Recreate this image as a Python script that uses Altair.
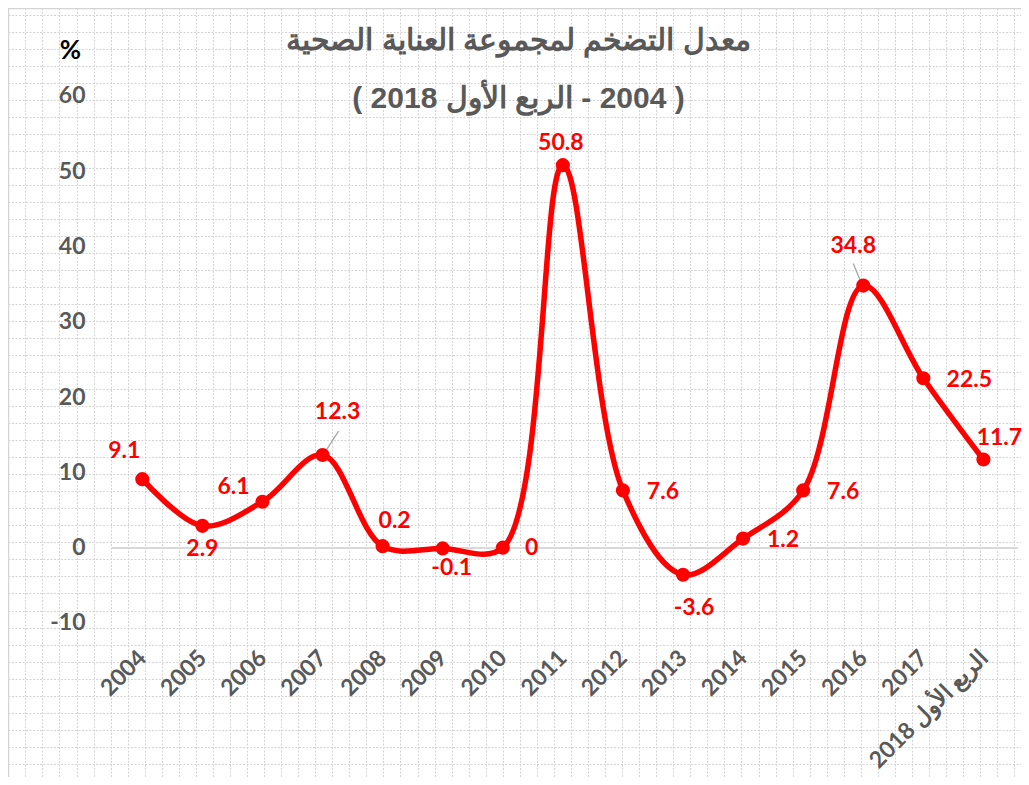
import altair as alt
import pandas as pd

# ---------------- data ----------------
periods = ["2004", "2005", "2006", "2007", "2008", "2009", "2010", "2011",
           "2012", "2013", "2014", "2015", "2016", "2017", "الربع الأول 2018"]
values = [9.1, 2.9, 6.1, 12.3, 0.2, -0.1, 0, 50.8, 7.6, -3.6, 1.2, 7.6, 34.8, 22.5, 11.7]
labels = ["9.1", "2.9", "6.1", "12.3", "0.2", "-0.1", "0", "50.8", "7.6", "-3.6",
          "1.2", "7.6", "34.8", "22.5", "11.7"]
y_ticks = [-10, 0, 10, 20, 30, 40, 50, 60]
RLE, PDF = "\u202b", "\u202c"
title_lines = ["معدل التضخم لمجموعة العناية الصحية",
               RLE + "(  2004 - الربع الأول 2018  )" + PDF]

# ---------------- styling / layout ----------------
W, H = 1013, 769
RED = "#ff0000"
GRAY_TXT = "#595959"
GRID = "#d4d4d4"
FONT = "Lato"

# label offsets (dx, dy) relative to each point
label_offsets = {
    "2004": (-18, -28), "2005": (0, 23), "2006": (-29, -15), "2007": (15, -43),
    "2008": (12, -25), "2009": (9, 20), "2010": (29, 0), "2011": (-2, -22),
    "2012": (40, 2), "2013": (11, 33), "2014": (40, 1), "2015": (40, 2),
    "2016": (-10, -40), "2017": (46, 2), "الربع الأول 2018": (16, -22),
}
# leader lines: (xOffset, yOffset, x2Offset, y2Offset)
leaders = {"2007": (1.5, -1.5, 16, -24), "2016": (-1.5, -1.7, -10, -22)}

df = pd.DataFrame({"period": periods, "value": values, "label": labels})

# background cell grid (decorative)
grid_x = [round(0.3 + 17.05 * k, 2) for k in range(60)]
grid_y = [round(6.8 + 17.02 * k, 2) for k in range(45)]

grid_layer = alt.Chart(pd.DataFrame({"gx": [0], "gy": [0]})).mark_point(opacity=0).encode(
    x=alt.X("gx:Q", scale=alt.Scale(domain=[0, W], nice=False, zero=False),
            axis=alt.Axis(orient="top", values=grid_x, labels=False, ticks=False,
                          domain=True, domainColor="#d4d4d4", domainWidth=1.5,
                          grid=True, gridColor=GRID, gridDash=[2, 1.5], gridWidth=1,
                          title=None)),
    y=alt.Y("gy:Q", scale=alt.Scale(domain=[0, H], nice=False, zero=False, reverse=True),
            axis=alt.Axis(orient="left", values=grid_y, labels=False, ticks=False,
                          domain=True, domainColor="#d4d4d4", domainWidth=1.5,
                          grid=True, gridColor=GRID, gridDash=[2, 1.5], gridWidth=1,
                          title=None)),
)

x_scale = alt.Scale(type="point", domain=periods, range=[134.3, 975.4], padding=0)
y_scale = alt.Scale(domain=[-30.46, 71.67], nice=False, zero=False)

x_axis = alt.Axis(orient="bottom", title=None, labelAngle=-45, labelAlign="right",
                  labelBaseline="middle", labelFont=FONT, labelFontSize=23,
                  labelFontWeight="bold", labelColor=GRAY_TXT, ticks=False, tickSize=0,
                  domain=False, grid=False, offset=-123, labelPadding=0,
                  labelOverlap=False, labelFlush=False, labelBound=False)
y_axis = alt.Axis(orient="left", values=y_ticks, title="%", titleAngle=0,
                  titleX=-15, titleY=42, titleAlign="center", titleBaseline="middle",
                  titleFont=FONT, titleFontSize=26, titleFontWeight="bold", titleColor="#000000",
                  labelFont=FONT, labelFontSize=23, labelFontWeight="bold",
                  labelExpr="'' + datum.value",
                  labelColor=GRAY_TXT, ticks=False, tickSize=0, domain=False, grid=False,
                  offset=-77, labelPadding=0, labelOverlap=False, labelFlush=False,
                  labelBound=False)

X = alt.X("period:N", sort=periods, scale=x_scale, axis=x_axis)
Y = alt.Y("value:Q", scale=y_scale, axis=y_axis)

base = alt.Chart(df)

zero_rule = alt.Chart(df).mark_rule(color="#d9d9d9", strokeWidth=1.5).encode(
    y=alt.Y(datum=0, type="quantitative", scale=y_scale, axis=y_axis),
    x=alt.value(104), x2=alt.value(1010))

line = base.mark_line(color=RED, strokeWidth=5.5, interpolate="catmull-rom").encode(x=X, y=Y)

leader_layers = []
for p, (xo, yo, x2o, y2o) in leaders.items():
    leader_layers.append(
        base.transform_filter(alt.FieldEqualPredicate(field="period", equal=p))
        .mark_rule(color="#a6a6a6", strokeWidth=1.3, xOffset=xo, yOffset=yo,
                   x2Offset=x2o, y2Offset=y2o)
        .encode(x=X, y=Y, x2=alt.X2("period:N"), y2=alt.Y2("value:Q")))

points = base.mark_circle(color=RED, size=200, opacity=1).encode(x=X, y=Y)

text_layers = []
for p in periods:
    dx, dy = label_offsets[p]
    text_layers.append(
        base.transform_filter(alt.FieldEqualPredicate(field="period", equal=p))
        .mark_text(dx=dx, dy=dy, font=FONT, fontSize=23, fontWeight="bold",
                   color=RED, align="center", baseline="middle")
        .encode(x=X, y=Y, text="label:N"))

main = alt.layer(zero_rule, line, *leader_layers, points, *text_layers)

chart = alt.layer(grid_layer, main).resolve_scale(
    x="independent", y="independent").resolve_axis(x="independent", y="independent").properties(
    width=W, height=H,
    autosize=alt.AutoSizeParams(type="none"),
    padding=0,
    title=alt.TitleParams(text=title_lines, font="Liberation Sans", fontSize=30,
                          fontWeight="bold", color=GRAY_TXT, anchor="middle",
                          baseline="alphabetic", lineHeight=58, offset=0, dy=133, dx=4),
).configure_view(stroke=None).configure(background="white")

chart.save("out.html", embed_options={"renderer": "svg", "actions": False})
